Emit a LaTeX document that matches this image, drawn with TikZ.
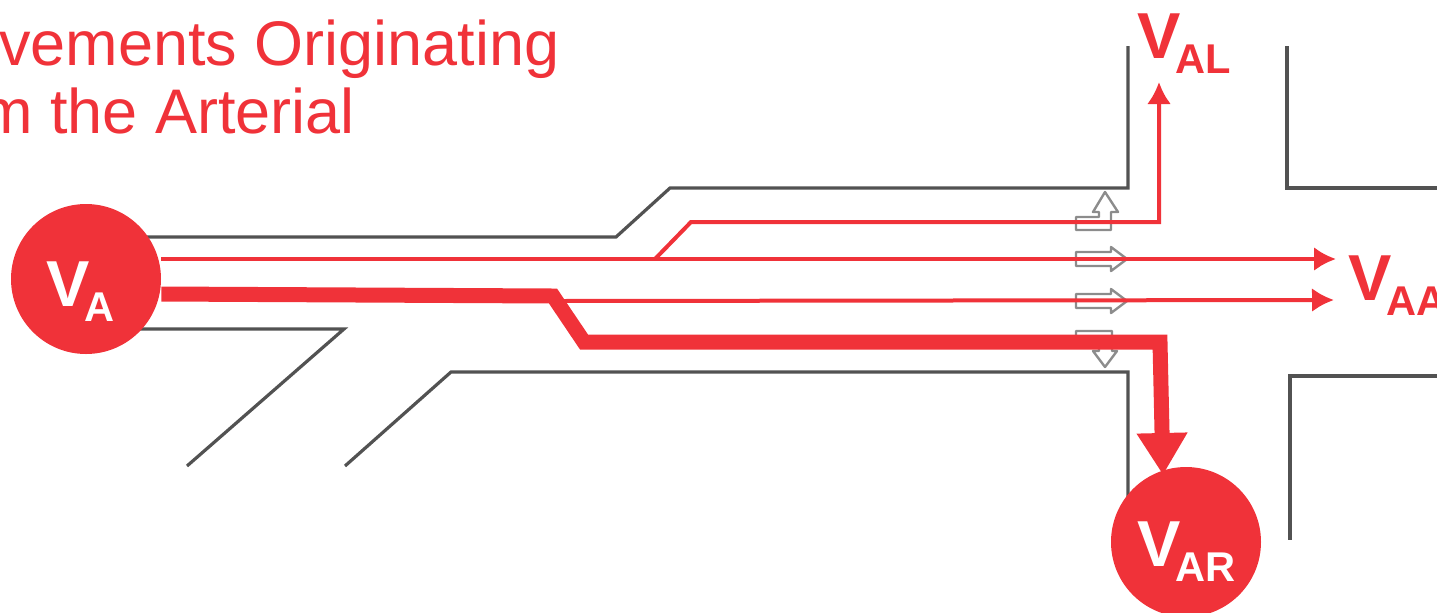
\documentclass[tikz,border=0pt]{standalone}
\usepackage{fontspec}
\setmainfont{Liberation Sans}
\usetikzlibrary{arrows.meta}
\definecolor{movered}{RGB}{240, 50, 57}
\newcommand{\vlabel}[1]{{\fontsize{32.5}{32.5}\bfseries\selectfont V}\kern-2.5pt\raisebox{-7.5pt}{\fontsize{20.8}{20.8}\bfseries\selectfont #1}}

\begin{document}
\begin{tikzpicture}[x=0.5pt, y=-0.5pt, >=Latex]
    \tikzset{
      curb/.style={draw=black!68, line width=1.6pt},
      lanemark/.style={draw=black!45, line width=1.2pt, line join=round},
      thinroute/.style={draw=movered, line width=2pt},
      thickroute/.style={draw=movered, line width=7.5pt},
      volume/.style={circle, fill=movered, text=white, minimum size=75pt, inner sep=0pt},
      movelabel/.style={text=movered, inner sep=0pt, anchor=base west},
      titletext/.style={text=movered, inner sep=0pt, anchor=base west, font=\fontsize{31.5}{31.5}\selectfont}
    }
    \useasboundingbox (0, 0) rectangle (1437, 612);
    \node[titletext] (title1) at (-1, 65) {vements Originating};
    \node[titletext] (title2) at (-20, 133) {m the Arterial};
    % curbs
    \draw[curb] (120, 237) -- (616, 237) -- (670, 188) -- (1128, 188) -- (1128, 46);
    \draw[curb] (1287, 46) -- (1287, 188) -- (1437, 188);
    \draw[curb] (120, 329) -- (344, 329) -- (187, 466);
    \draw[curb] (345, 466) -- (451, 372) -- (1128, 372) -- (1128, 500);
    \draw[curb] (1437, 376) -- (1290, 376) -- (1290, 540);
    % lane arrows
    \foreach \y in {259, 301} {
      \draw[lanemark] (1076, \y-7) -- (1111, \y-7) -- (1111, \y-12) -- (1127, \y)
        -- (1111, \y+12) -- (1111, \y+7) -- (1076, \y+7) -- cycle;
    }
    \draw[lanemark] (1076, 217) -- (1099, 217) -- (1099, 212) -- (1093, 212) -- (1105, 192)
      -- (1118, 212) -- (1111, 212) -- (1111, 230) -- (1076, 230) -- cycle;
    \draw[lanemark] (1076, 345) -- (1076, 331) -- (1112, 331) -- (1112, 351) -- (1117, 351)
      -- (1105, 367) -- (1093, 351) -- (1099, 351) -- (1099, 345);
    % volumes
    \node[volume] (va) at (86, 279) {};
    \node[volume] (var) at (1186, 542) {};
    \node[movelabel, text=white] (valabel) at (46, 306) {\vlabel{A}};
    \node[movelabel, text=white] (varlabel) at (1137, 566) {\vlabel{AR}};
    \node[movelabel] (val) at (1137, 58) {\vlabel{AL}};
    \node[movelabel] (vaa) at (1348, 300) {\vlabel{AA}};
    \coordinate (altip) at (1159, 82);
    \coordinate (aatip) at (1336, 259);
    \coordinate (rttip) at (1334, 300);
    \coordinate (artip) at (1163, 475);
    \coordinate (split) at (655, 259);
    \coordinate (rtsplit) at (560, 301);
    % routes
    \draw[thinroute, -{Latex[length=11pt, width=12pt]}] ([yshift=10pt]va.east) -- (aatip);
    \draw[thinroute, -{Latex[length=11pt, width=12pt]}] (split) -- (691, 222) -- (1159, 222) -- (altip);
    \draw[thinroute, -{Latex[length=11pt, width=12pt]}] (rtsplit) -- (rttip);
    \draw[thickroute, -{Triangle[length=21pt, width=24pt]}] ([yshift=-7.5pt]va.east) -- (553, 296)
      -- (584, 342) -- (1160, 342) -- (artip);
  \end{tikzpicture}
\end{document}
